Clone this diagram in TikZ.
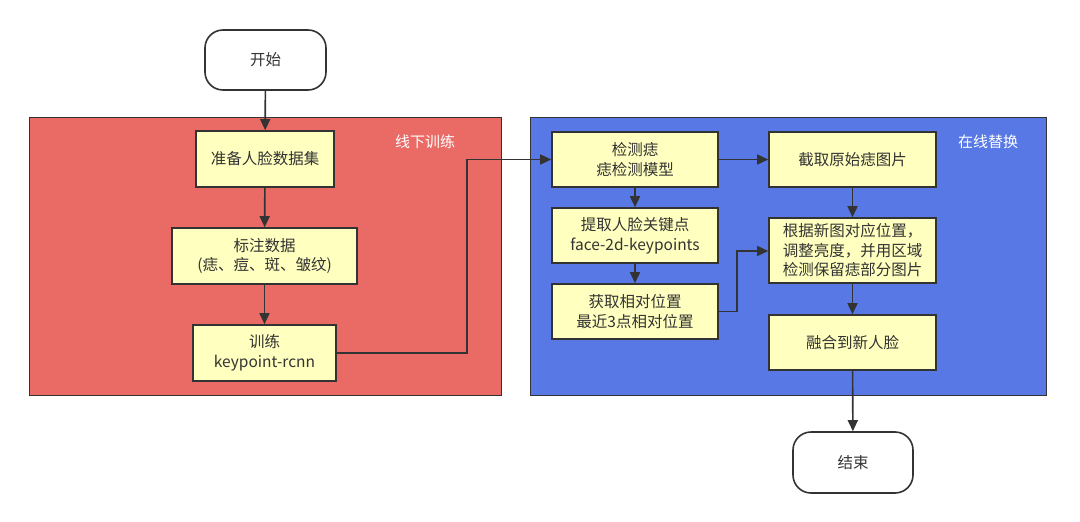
\documentclass[tikz,border=0pt]{standalone}
\usepackage{fontspec}
\setmainfont{Noto Sans CJK SC}
\usetikzlibrary{arrows.meta}
\definecolor{redbg}{RGB}{234,107,102}
\definecolor{bluebg}{RGB}{88,120,230}
\definecolor{boxfill}{RGB}{255,255,192}
\definecolor{edge}{RGB}{51,51,51}
\begin{document}
\begin{tikzpicture}[x=1pt,y=-1pt,
  font=\fontsize{15.5}{19.5}\selectfont,
  container/.style={draw=edge,line width=1.2pt},
  stepbox/.style={draw=edge,fill=boxfill,line width=1.6pt,text=edge,align=center,inner sep=0pt},
  term/.style={draw=edge,fill=white,line width=1.6pt,rounded corners=18pt,text=edge,align=center,inner sep=0pt},
  grouplabel/.style={text=white,font=\fontsize{15}{17}\selectfont},
  flow/.style={draw=edge,line width=1.6pt,-{Triangle[length=11pt,width=10pt]}}]
\useasboundingbox (0,0) rectangle (1080,522);
% containers
\node[container,fill=redbg,minimum width=472pt,minimum height=278pt,anchor=north west,inner sep=0pt] (offline) at (29,117) {};
\node[container,fill=bluebg,minimum width=516pt,minimum height=278pt,anchor=north west,inner sep=0pt] (online) at (530,117) {};
\node[grouplabel] (offlbl) at (425,142) {线下训练};
\node[grouplabel] (onlbl) at (988,142) {在线替换};
% terminals
\node[term,minimum width=121pt,minimum height=60pt] (start) at (265.5,60) {开始};
\node[term,minimum width=120pt,minimum height=61pt] (end) at (853,462.5) {结束};
% offline steps
\node[stepbox,minimum width=138pt,minimum height=56pt] (prep) at (265,159) {准备人脸数据集};
\node[stepbox,minimum width=185pt,minimum height=56pt] (label) at (264.5,256) {标注数据\\(痣、痘、斑、皱纹)};
\node[stepbox,minimum width=143pt,minimum height=56pt] (train) at (264.5,353) {训练\\keypoint-rcnn};
% online steps
\node[stepbox,minimum width=166pt,minimum height=55pt] (detect) at (635,159.5) {检测痣\\痣检测模型};
\node[stepbox,minimum width=166pt,minimum height=55pt] (kp) at (635,235.5) {提取人脸关键点\\face-2d-keypoints};
\node[stepbox,minimum width=166pt,minimum height=55pt] (rel) at (635,311.5) {获取相对位置\\最近3点相对位置};
\node[stepbox,minimum width=167pt,minimum height=55pt] (crop) at (852.5,159.5) {截取原始痣图片};
\node[stepbox,minimum width=167pt,minimum height=65pt] (adjust) at (852.5,250.5) {根据新图对应位置，\\调整亮度，并用区域\\检测保留痣部分图片};
\node[stepbox,minimum width=167pt,minimum height=55pt] (fuse) at (852.5,342.5) {融合到新人脸};
% connectors
\draw[flow] (start) -- (prep);
\draw[flow] (prep) -- (label);
\draw[flow] (label) -- (train);
\draw[flow] (train.east) -- (467,353) -- (467,159.5) -- (detect.west);
\draw[flow] (detect) -- (crop);
\draw[flow] (detect) -- (kp);
\draw[flow] (kp) -- (rel);
\draw[flow] (rel.east) -- (737,311.5) -- (737,251) -- (adjust.west |- 0,251);
\draw[flow] (crop) -- (adjust);
\draw[flow] (adjust) -- (fuse);
\draw[flow] (fuse) -- (end);
\end{tikzpicture}
\end{document}
